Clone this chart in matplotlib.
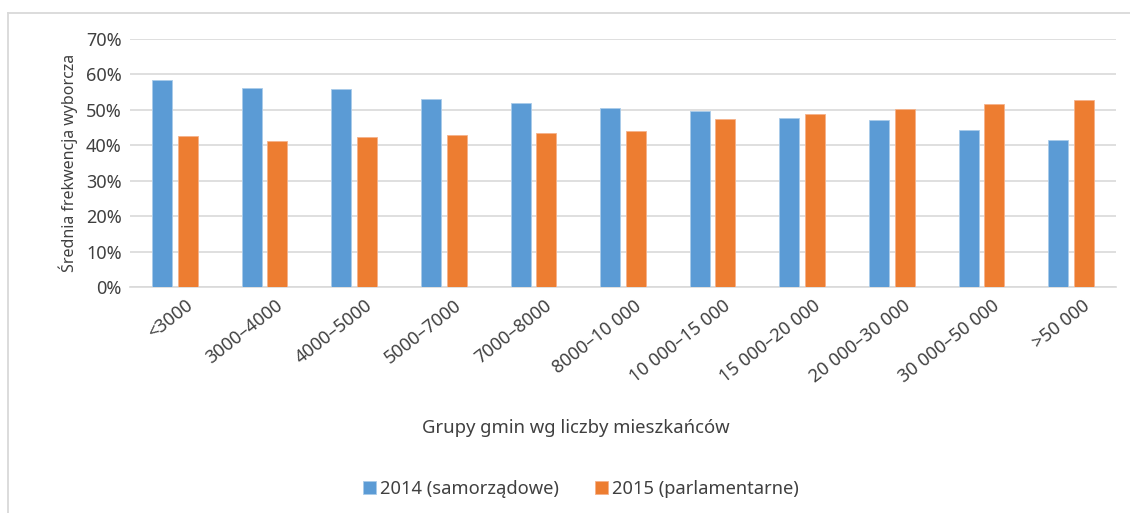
import numpy as np
import matplotlib
matplotlib.use("Agg")
import matplotlib.pyplot as plt
import matplotlib.transforms as mtransforms
from matplotlib.lines import Line2D
from matplotlib.ticker import PercentFormatter

plt.rcParams["font.family"] = ["Noto Sans", "DejaVu Sans"]

# ---- data ----
groups = ["<3000", "3000–4000", "4000–5000", "5000–7000", "7000–8000",
          "8000–10 000", "10 000–15 000", "15 000–20 000", "20 000–30 000",
          "30 000–50 000", ">50 000"]
turnout_2014 = [58.4, 56.1, 55.8, 53.2, 51.8, 50.6, 49.8, 47.8, 47.0, 44.4, 41.4]
turnout_2015 = [42.6, 41.1, 42.2, 42.9, 43.4, 44.1, 47.3, 48.8, 50.2, 51.6, 52.9]
series_names = ["2014 (samorządowe)", "2015 (parlamentarne)"]

BLUE = "#5B9BD5"
ORANGE = "#ED7D31"
GRID = "#D9D9D9"
TXT = "#404040"
FS = 13

fig = plt.figure(figsize=(11.3, 5.13), dpi=100)
ax = fig.add_axes([0.115, 0.4405, 0.8726, 0.4835])

x = np.arange(len(groups))
w = 0.223
off = 0.143
ax.bar(x - off, turnout_2014, w, color=BLUE, edgecolor="#A9CBEA", lw=0.6,
       label=series_names[0], zorder=3)
ax.bar(x + off, turnout_2015, w, color=ORANGE, edgecolor="#F5B28A", lw=0.6,
       label=series_names[1], zorder=3)

ax.set_xlim(-0.5, len(groups) - 0.5)
ax.set_ylim(0, 70)
ax.set_yticks(np.arange(0, 71, 10))
ax.yaxis.set_major_formatter(PercentFormatter(decimals=0))
ax.grid(axis="y", color=GRID, lw=1.2, zorder=0)
for s in ["top", "right", "left"]:
    ax.spines[s].set_visible(False)
ax.spines["bottom"].set_color(GRID)
ax.spines["bottom"].set_linewidth(1.2)
ax.tick_params(length=0, colors=TXT, labelsize=FS)
ax.tick_params(axis="y", pad=6)

ax.set_xticks(x)
ax.set_xticklabels(groups, rotation=38, ha="right", va="center",
                   rotation_mode="anchor", fontsize=FS, color=TXT)
ax.tick_params(axis="x", pad=12)
shift = mtransforms.ScaledTranslation(0.16, 0, fig.dpi_scale_trans)
for lab in ax.get_xticklabels():
    lab.set_transform(lab.get_transform() + shift)

ax.set_ylabel("Średnia frekwencja wyborcza", fontsize=11.5, color=TXT, labelpad=6)

fig.text(0.51, 0.166, "Grupy gmin wg liczby mieszkańców", ha="center",
         va="center", fontsize=13.3, color=TXT)

fig.legend(loc="center", bbox_to_anchor=(0.514, 0.047), ncol=2, frameon=False,
           fontsize=13.2, handlelength=0.7, handleheight=0.7,
           handletextpad=0.2, columnspacing=2.0, labelcolor=TXT)

# chart-area frame (left and top edges visible in the crop)
fig.add_artist(Line2D([0.0071, 0.0071], [0, 0.9747], color=GRID, lw=1.3,
                      transform=fig.transFigure))
fig.add_artist(Line2D([0.0071, 1.0], [0.9747, 0.9747], color=GRID, lw=1.3,
                      transform=fig.transFigure))

fig.savefig("out.png", dpi=100, facecolor="white")
